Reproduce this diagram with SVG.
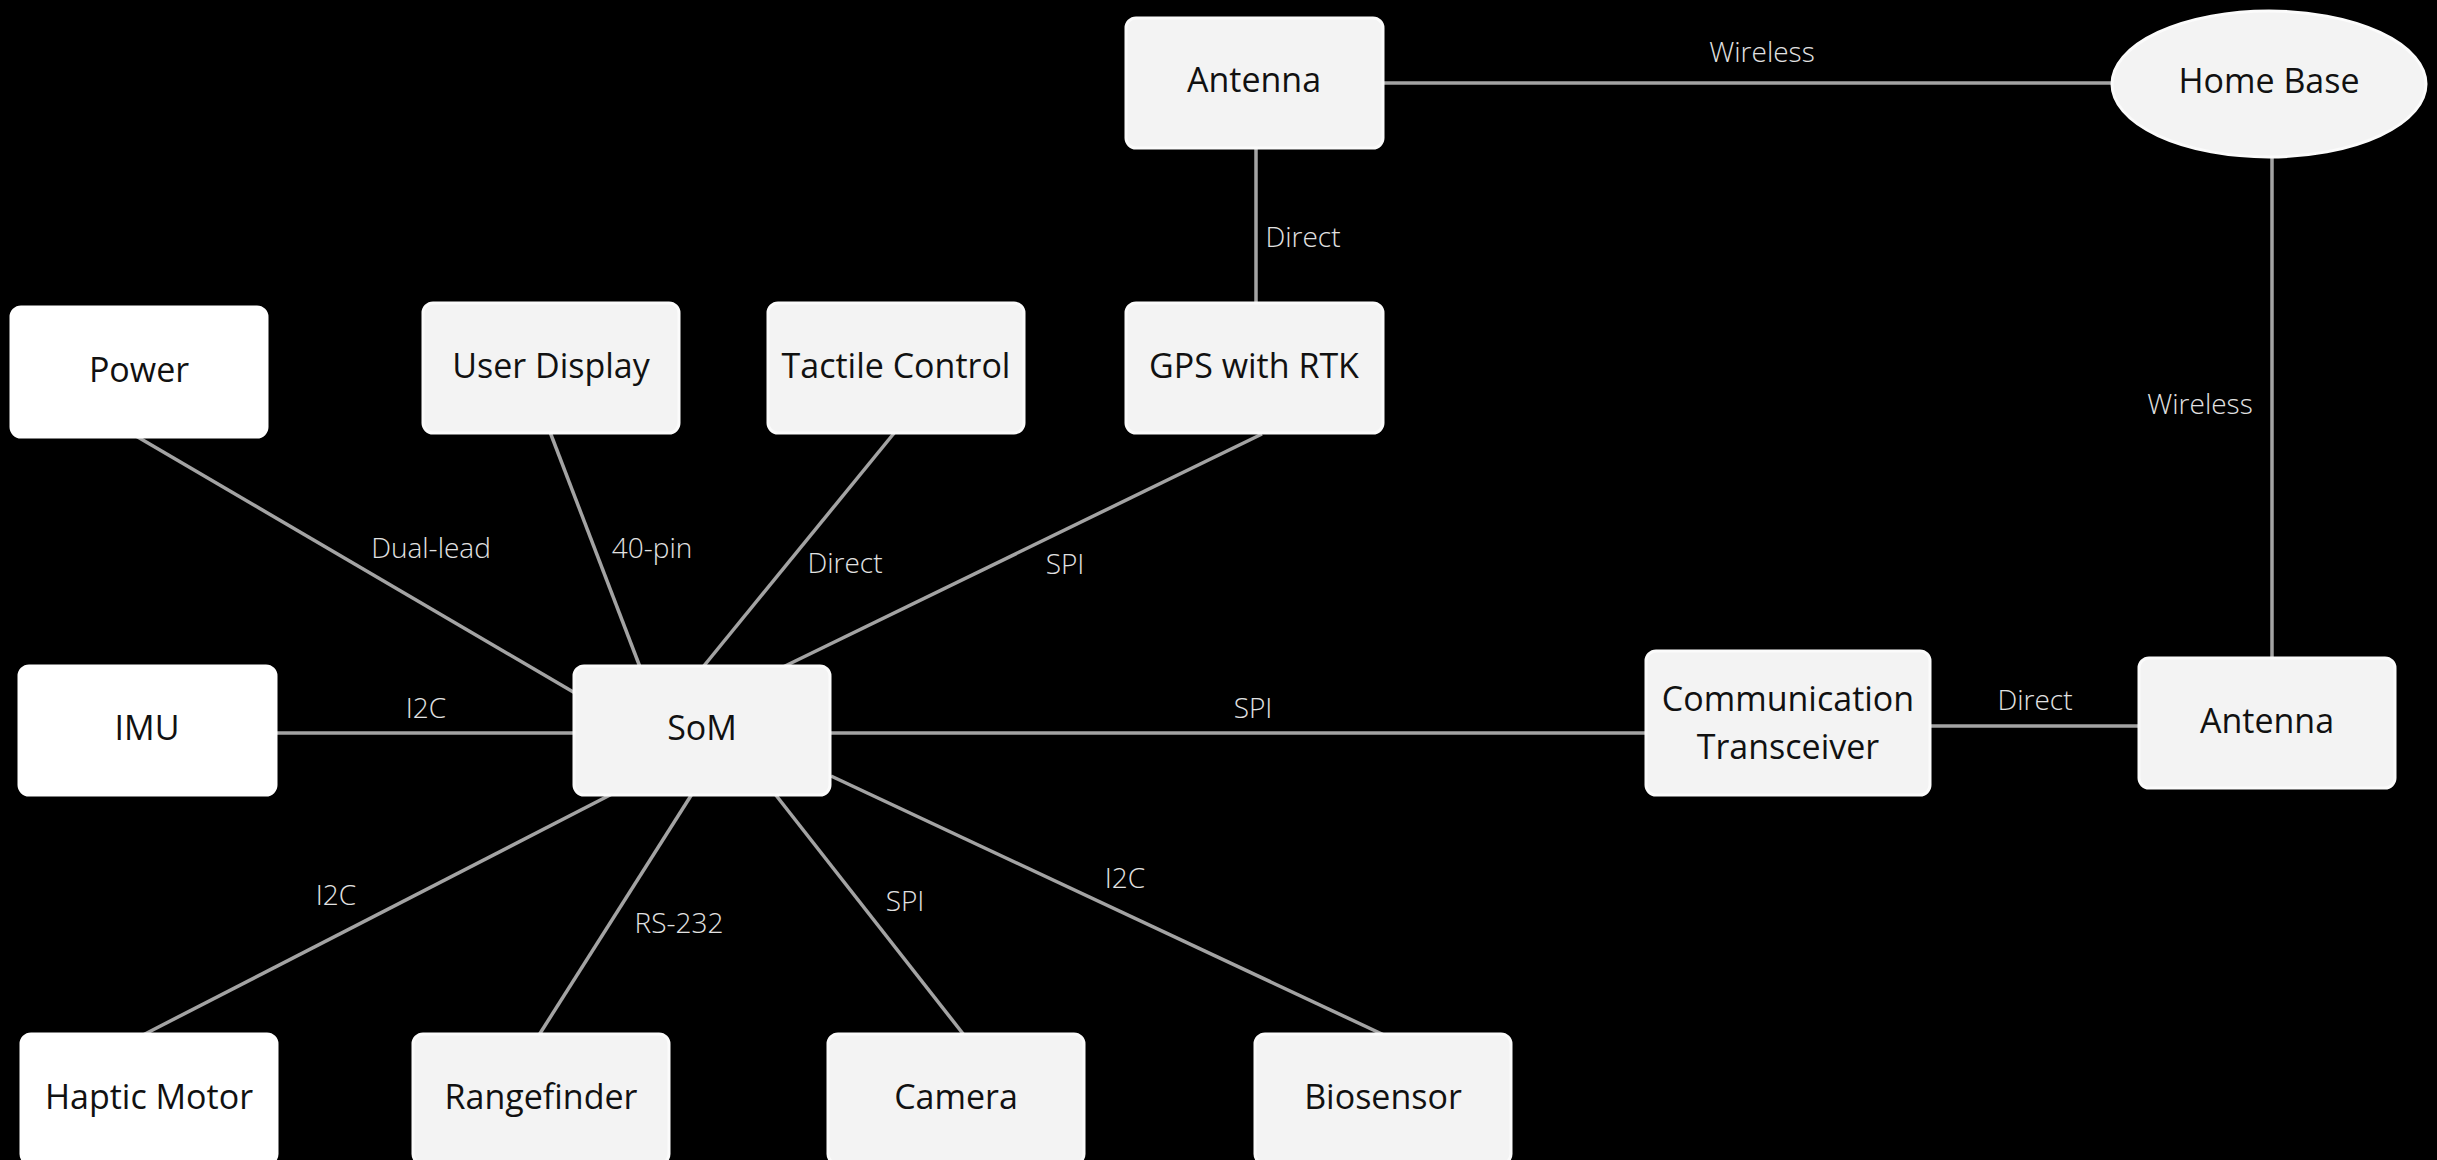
<svg xmlns="http://www.w3.org/2000/svg" width="2437" height="1160" viewBox="0 0 2437 1160">
<style>
.bg{fill:#000}
.box{fill:#f3f3f3;stroke:#fbfbfb;stroke-width:3}
.wbox{fill:#ffffff;stroke:#ffffff;stroke-width:3}
.nt{font-family:"Open Sans","Noto Sans","Liberation Sans",sans-serif;font-size:34px;fill:#111;text-anchor:middle}
.ln{stroke:#a3a3a3;stroke-width:3.5;fill:none}
.lt{font-family:"Open Sans","Noto Sans","Liberation Sans",sans-serif;font-weight:300;font-size:28px;fill:#e2e2e2;text-anchor:middle}
</style>
<rect class="bg" x="0" y="0" width="2437" height="1160"/>
<g id="connectors">
<line class="ln" x1="136" y1="436" x2="575" y2="693"/>
<line class="ln" x1="550" y1="432" x2="640" y2="667"/>
<line class="ln" x1="895" y1="432" x2="703" y2="667"/>
<line class="ln" x1="1262" y1="434" x2="783" y2="667"/>
<line class="ln" x1="276" y1="733" x2="574" y2="733"/>
<line class="ln" x1="830" y1="733" x2="1646" y2="733"/>
<line class="ln" x1="1930" y1="726" x2="2139" y2="726"/>
<line class="ln" x1="1383" y1="83" x2="2112" y2="83"/>
<line class="ln" x1="1256" y1="148" x2="1256" y2="303"/>
<line class="ln" x1="2272" y1="157" x2="2272" y2="658"/>
<line class="ln" x1="612" y1="794" x2="143" y2="1035"/>
<line class="ln" x1="692" y1="794" x2="539" y2="1035"/>
<line class="ln" x1="775" y1="794" x2="964" y2="1035"/>
<line class="ln" x1="831" y1="776" x2="1384" y2="1035"/>
<text class="lt" x="431" y="558">Dual-lead</text>
<text class="lt" x="652" y="558">40-pin</text>
<text class="lt" x="845" y="573">Direct</text>
<text class="lt" x="1065" y="574">SPI</text>
<text class="lt" x="426" y="718">I2C</text>
<text class="lt" x="1253" y="718">SPI</text>
<text class="lt" x="2035" y="710">Direct</text>
<text class="lt" x="1762" y="62">Wireless</text>
<text class="lt" x="1303" y="247">Direct</text>
<text class="lt" x="2200" y="414">Wireless</text>
<text class="lt" x="336" y="905">I2C</text>
<text class="lt" x="679" y="933">RS-232</text>
<text class="lt" x="905" y="911">SPI</text>
<text class="lt" x="1125" y="888">I2C</text>
</g>
<g id="power"><rect class="wbox" x="11" y="307" width="256" height="130" rx="10"/><text class="nt" x="139" y="382">Power</text></g>
<g id="user-display"><rect class="box" x="423" y="303" width="256" height="130" rx="10"/><text class="nt" x="551" y="378">User Display</text></g>
<g id="tactile-control"><rect class="box" x="768" y="303" width="256" height="130" rx="10"/><text class="nt" x="896" y="378">Tactile Control</text></g>
<g id="gps"><rect class="box" x="1126" y="303" width="257" height="130" rx="10"/><text class="nt" x="1254" y="378">GPS with RTK</text></g>
<g id="antenna-top"><rect class="box" x="1126" y="18" width="257" height="130" rx="10"/><text class="nt" x="1254" y="92">Antenna</text></g>
<g id="home-base"><ellipse class="box" cx="2269" cy="84" rx="157" ry="73"/><text class="nt" x="2269" y="93">Home Base</text></g>
<g id="imu"><rect class="wbox" x="19" y="666" width="257" height="129" rx="10"/><text class="nt" x="147" y="740">IMU</text></g>
<g id="som"><rect class="box" x="574" y="666" width="256" height="129" rx="10"/><text class="nt" x="702" y="740">SoM</text></g>
<g id="comm"><rect class="box" x="1646" y="651" width="284" height="144" rx="10"/><text class="nt" x="1788" y="711">Communication</text><text class="nt" x="1788" y="759">Transceiver</text></g>
<g id="antenna-right"><rect class="box" x="2139" y="658" width="256" height="130" rx="10"/><text class="nt" x="2267" y="733">Antenna</text></g>
<g id="haptic"><rect class="wbox" x="21" y="1034" width="256" height="130" rx="10"/><text class="nt" x="149" y="1109">Haptic Motor</text></g>
<g id="rangefinder"><rect class="box" x="413" y="1034" width="256" height="130" rx="10"/><text class="nt" x="541" y="1109">Rangefinder</text></g>
<g id="camera"><rect class="box" x="828" y="1034" width="256" height="130" rx="10"/><text class="nt" x="956" y="1109">Camera</text></g>
<g id="biosensor"><rect class="box" x="1255" y="1034" width="256" height="130" rx="10"/><text class="nt" x="1383" y="1109">Biosensor</text></g>
</svg>
